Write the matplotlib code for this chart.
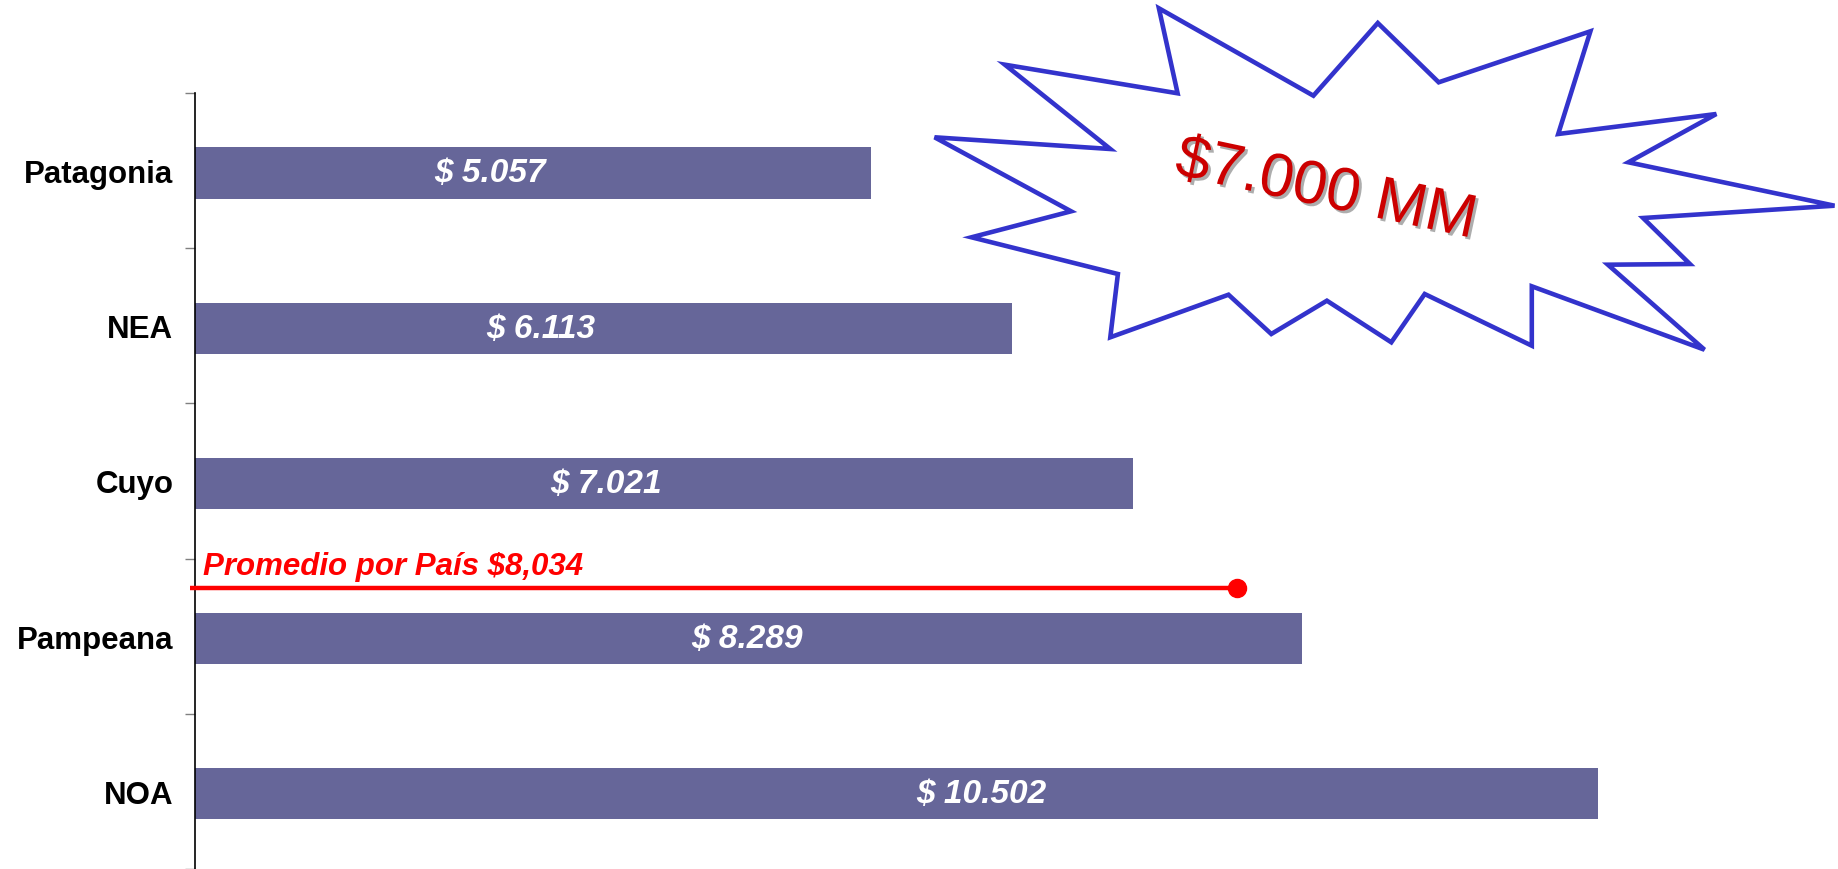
import matplotlib
matplotlib.use("Agg")
import matplotlib.pyplot as plt
from matplotlib.patches import Polygon
import matplotlib.patheffects as pe

plt.rcParams['font.family'] = ['Liberation Sans', 'DejaVu Sans']

# data
regiones = ['Patagonia', 'NEA', 'Cuyo', 'Pampeana', 'NOA']
valores = [5.057, 6.113, 7.021, 8.289, 10.502]
etiquetas = ['$ 5.057', '$ 6.113', '$ 7.021', '$ 8.289', '$ 10.502']
promedio = 8.034
promedio_txt = 'Promedio por País $8,034'
burbuja_txt = '$7.000 MM'

# layout
label_x = [2.21, 2.59, 3.08, 4.13, 5.89]   # centre of value labels, data units
linea_fin = 7.8                            # red line stops a bit short of the average
linea_y = 2.69

W, H = 1838, 870
fig = plt.figure(figsize=(W / 100, H / 100), dpi=100)
ax = fig.add_axes([195 / W, 0, 1 - 195 / W, 776 / H])

y = [i + 0.015 for i in range(len(regiones))]
ax.barh(y, valores, height=0.33, color='#666699', zorder=2)

for yi, lx, txt in zip(y, label_x, etiquetas):
    ax.text(lx, yi, txt, ha='center', va='center', color='white',
            fontsize=24, fontweight='bold', fontstyle='italic', zorder=3)

# average line
ax.plot([-0.035, linea_fin], [linea_y, linea_y], color='#ff0000', lw=3.2,
        solid_capstyle='butt', clip_on=False, zorder=4)
ax.plot([linea_fin], [linea_y], 'o', color='#ff0000', ms=13, clip_on=False, zorder=4)
ax.text(0.06, 2.55, promedio_txt, color='#ff0000', fontsize=22.5,
        fontweight='bold', fontstyle='italic', ha='left', va='center', zorder=4)

ax.set_xlim(0, 12.3)
ax.set_ylim(len(regiones) - 0.5, -0.5)

# boundary ticks (major), category labels (minor)
ax.set_yticks([i - 0.5 for i in range(len(regiones) + 1)])
ax.set_yticklabels([])
ax.set_yticks(range(len(regiones)), minor=True)
ax.set_yticklabels(regiones, minor=True, fontsize=22.5, fontweight='bold')
ax.tick_params(axis='y', which='major', length=7, width=1, color='#808080', direction='out')
ax.tick_params(axis='y', which='minor', length=0, pad=15.5)
ax.set_xticks([])
for s in ['top', 'right', 'bottom']:
    ax.spines[s].set_visible(False)
ax.spines['left'].set_linewidth(1.2)

# starburst callout (figure pixel coords)
star_px = [(934.6, 138.3), (1110.3, 150), (1004.9, 65.7), (1177.6, 94.3),
           (1158.9, 9.3), (1313.4, 96.7), (1377.8, 24), (1438.7, 83.3),
           (1590.4, 32.3), (1558.2, 135), (1716.3, 115), (1628.4, 163.3),
           (1834.5, 206.7), (1643.1, 219), (1689.9, 265), (1607.9, 265.7),
           (1704.5, 350.7), (1531.8, 287.3), (1531.8, 346.7), (1424.7, 295),
           (1391.3, 343.3), (1326.9, 301.7), (1271.3, 335), (1228.5, 295.7),
           (1110.3, 338.3), (1117.9, 275), (971.5, 238.3), (1071.1, 212.3)]
star = Polygon([(x / W, 1 - yy / H) for x, yy in star_px], closed=True,
               facecolor='white', edgecolor='#3333cc', lw=3.3,
               transform=fig.transFigure, zorder=5)
fig.add_artist(star)

fig.text(1326 / W, 1 - 192 / H, burbuja_txt, color='#cc0000', fontsize=44,
         rotation=-12, ha='center', va='center', zorder=6,
         path_effects=[pe.withSimplePatchShadow(offset=(2, -2), shadow_rgbFace='#999999', alpha=0.8)])

fig.savefig('out.png', dpi=100)
